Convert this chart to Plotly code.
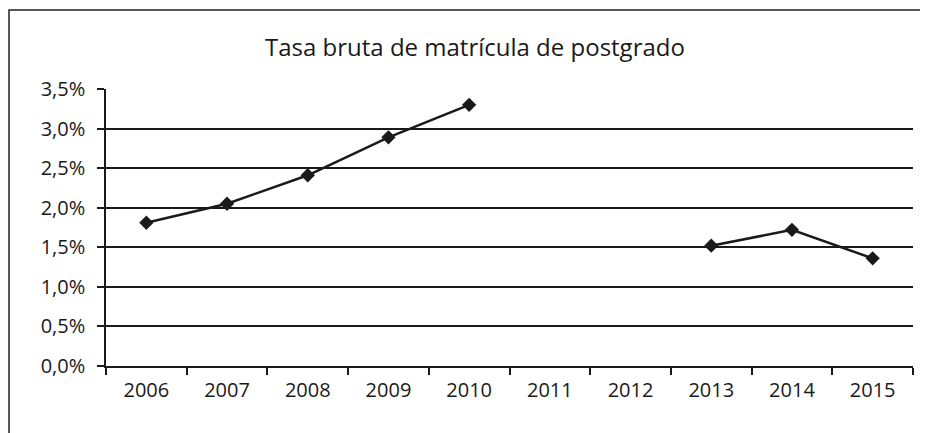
import plotly.graph_objects as go

years = ["2006", "2007", "2008", "2009", "2010", "2011", "2012", "2013", "2014", "2015"]
tasa = [0.0181, 0.0205, 0.0241, 0.0289, 0.0330, None, None, 0.0152, 0.0172, 0.0136]
y_ticks = [0, 0.005, 0.010, 0.015, 0.020, 0.025, 0.030, 0.035]
title_text = "Tasa bruta de matrícula de postgrado"

# page is offset by the 8px body margin
W, H = 928, 433
L, R, T, B = 98, 23, 81, 75
pw, ph = W - L - R, H - T - B

fig = go.Figure()
fig.add_trace(go.Scatter(
    x=years, y=tasa, mode="lines+markers",
    line=dict(color="#1a1a1a", width=2.5),
    marker=dict(symbol="diamond", size=11, color="#1a1a1a"),
    connectgaps=False, showlegend=False, hoverinfo="skip",
))

font = "Open Sans, DejaVu Sans, sans-serif"
fig.update_layout(
    width=W, height=H,
    margin=dict(l=L, r=R, t=T, b=B),
    paper_bgcolor="white", plot_bgcolor="white",
    separators=",.",
    font=dict(family=font, color="#1a1a1a", size=19),
    xaxis=dict(
        type="category", tickson="boundaries", ticks="outside", ticklen=7,
        tickwidth=1.5, tickcolor="#1a1a1a", showgrid=False, showline=True,
        linecolor="#1a1a1a", linewidth=1.5, tickfont=dict(size=20),
        range=[-0.5, 9.5], fixedrange=True, ticklabelstandoff=5,
    ),
    yaxis=dict(
        range=[0, 0.035], tickvals=y_ticks, tickformat=".1%",
        ticks="outside", ticklen=7, tickwidth=1.5, tickcolor="#1a1a1a",
        showgrid=True, gridcolor="#1a1a1a", gridwidth=1.5,
        showline=True, linecolor="#1a1a1a", linewidth=1.5,
        zeroline=False, tickfont=dict(size=20), ticklabelstandoff=8,
    ),
)

# outer frame of the chart (extends past the right and bottom edges)
fig.add_shape(type="rect", xref="paper", yref="paper",
              x0=(1 - L) / pw, x1=(W + 20 - L) / pw,
              y0=(H - B - H - 20) / ph, y1=(H - B - 2) / ph,
              line=dict(color="#222", width=1.5), fillcolor="rgba(0,0,0,0)", layer="below")

fig.add_annotation(text=title_text, xref="paper", yref="paper",
                   x=(467 - L) / pw, y=(H - B - 38) / ph, xanchor="center", yanchor="middle",
                   showarrow=False, font=dict(size=24, family=font, color="#1a1a1a"))

fig.write_html("out.html")
